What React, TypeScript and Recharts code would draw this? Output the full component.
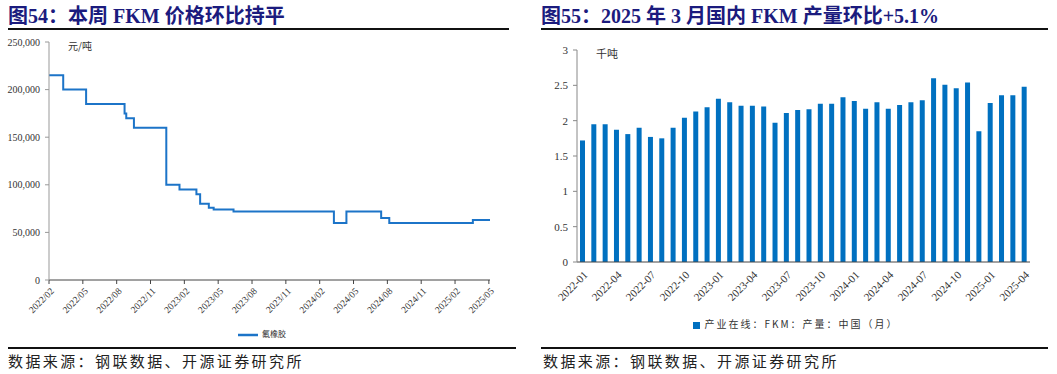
import React from "react";
import {
  Bar,
  BarChart,
  Legend,
  Line,
  LineChart,
  XAxis,
  YAxis,
} from "recharts";

// 图54：FKM 价格（元/吨），x = 自 2022/02 起的月份
const priceMonth = [0, 1.26, 3.29, 6.7, 6.85, 7.53, 10.4, 11.57, 13.07, 13.4, 14.17, 14.6, 16.36, 25.26, 26.37, 29.45, 30.17, 37.58, 39.1];
const priceValue = [215000, 200000, 185000, 175000, 170000, 160000, 100000, 95000, 90000, 80000, 76000, 74000, 72000, 60000, 72000, 65000, 60000, 63000, 63000];
const priceTickLabels = ["2022/02", "2022/05", "2022/08", "2022/11", "2023/02", "2023/05", "2023/08", "2023/11", "2024/02", "2024/05", "2024/08", "2024/11", "2025/02", "2025/05"];
const priceTicks = [0, 3, 6, 9, 12, 15, 18, 21, 24, 27, 30, 33, 36, 39];
const priceYTicks = [0, 50000, 100000, 150000, 200000, 250000];

// 图55：FKM 月产量（千吨）
const months = [
  "2022-01", "2022-02", "2022-03", "2022-04", "2022-05", "2022-06", "2022-07", "2022-08", "2022-09", "2022-10", "2022-11", "2022-12",
  "2023-01", "2023-02", "2023-03", "2023-04", "2023-05", "2023-06", "2023-07", "2023-08", "2023-09", "2023-10", "2023-11", "2023-12",
  "2024-01", "2024-02", "2024-03", "2024-04", "2024-05", "2024-06", "2024-07", "2024-08", "2024-09", "2024-10", "2024-11", "2024-12",
  "2025-01", "2025-02", "2025-03", "2025-04",
];
const output = [
  1.72, 1.95, 1.95, 1.87, 1.81, 1.9, 1.77, 1.75, 1.9, 2.04, 2.13, 2.19,
  2.31, 2.26, 2.21, 2.21, 2.2, 1.97, 2.11, 2.15, 2.16, 2.24, 2.24, 2.33,
  2.28, 2.17, 2.26, 2.17, 2.22, 2.26, 2.29, 2.6, 2.51, 2.46, 2.54, 1.85,
  2.25, 2.36, 2.36, 2.48,
];
const outputYTicks = [0, 0.5, 1, 1.5, 2, 2.5, 3];

const priceData = priceMonth.map((m, i) => ({ m, price: priceValue[i] }));
const outputData = months.map((month, i) => ({ month, value: output[i] }));

const serif = "'Liberation Serif', 'Times New Roman', 'Noto Sans CJK SC', serif";
const cjk = "'Noto Sans CJK SC', 'Liberation Serif', serif";
const titleColor = "#1b1b7e";

function RotatedTick(props: any) {
  const { x, y, payload, formatter, size = 10 } = props;
  const text = formatter ? formatter(payload.value) : payload.value;
  return (
    <g transform={`translate(${x},${y})`}>
      <text
        x={0}
        y={0}
        dy={8}
        textAnchor="end"
        transform="rotate(-45)"
        fontSize={size}
        fontFamily={serif}
        fill="#333"
      >
        {text}
      </text>
    </g>
  );
}

const titleStyle: React.CSSProperties = {
  position: "absolute",
  top: 3,
  fontSize: 20,
  fontWeight: 700,
  color: titleColor,
  fontFamily: serif,
  whiteSpace: "nowrap",
  lineHeight: "26px",
};

const sourceStyle: React.CSSProperties = {
  position: "absolute",
  top: 351,
  fontSize: 15,
  letterSpacing: 2.4,
  color: "#222",
  fontFamily: cjk,
  whiteSpace: "nowrap",
  lineHeight: "20px",
};

export default function App() {
  return (
    <div
      style={{
        position: "absolute",
        left: 0,
        top: 0,
        width: 1057,
        height: 374,
        background: "#fff",
        overflow: "hidden",
      }}
    >
      {/* 左：价格 */}
      <div style={{ ...titleStyle, left: 8 }}>图54：本周 FKM 价格环比持平</div>
      <div style={{ position: "absolute", left: 8, top: 28, width: 501, height: 2, background: "#111" }} />
      <div style={{ position: "absolute", left: 68, top: 38, fontSize: 10, fontFamily: cjk, color: "#333" }}>元/吨</div>

      <div style={{ position: "absolute", left: 0, top: 30 }}>
        <LineChart
          width={520}
          height={318}
          data={priceData}
          margin={{ top: 12, right: 30, left: 0, bottom: 0 }}
        >
          <XAxis
            dataKey="m"
            type="number"
            domain={[0, 39.1]}
            ticks={priceTicks}
            interval={0}
            tick={<RotatedTick size={9.5} formatter={(v: number) => priceTickLabels[priceTicks.indexOf(v)]} />}
            tickSize={4}
            height={40}
            stroke="#444"
          />
          <YAxis
            type="number"
            domain={[0, 250000]}
            ticks={priceYTicks}
            width={49}
            tickSize={4}
            tickMargin={5}
            tickFormatter={(v: number) => v.toLocaleString("en-US")}
            tick={{ fontSize: 10, fontFamily: serif, fill: "#333" }}
            stroke="#999"
          />
          <Legend
            verticalAlign="bottom"
            height={28}
            iconType="plainline"
            iconSize={20}
            wrapperStyle={{ fontSize: 8, fontFamily: cjk, bottom: -5, left: 22 }}
            formatter={(v: string) => <span style={{ color: "#333" }}>{v}</span>}
          />
          <Line
            name="氟橡胶"
            type="stepAfter"
            dataKey="price"
            stroke="#1c74c8"
            strokeWidth={2}
            dot={false}
            isAnimationActive={false}
          />
        </LineChart>
      </div>

      {/* 右：产量 */}
      <div style={{ ...titleStyle, left: 541 }}>图55：2025 年 3 月国内 FKM 产量环比+5.1%</div>
      <div style={{ position: "absolute", left: 541, top: 28, width: 507, height: 2, background: "#111" }} />
      <div style={{ position: "absolute", left: 596, top: 45, fontSize: 11, fontFamily: cjk, color: "#333" }}>千吨</div>

      <div style={{ position: "absolute", left: 530, top: 30 }}>
        <BarChart
          width={527}
          height={318}
          data={outputData}
          margin={{ top: 20, right: 27, left: 0, bottom: 0 }}
        >
          <XAxis
            dataKey="month"
            interval={2}
            tick={<RotatedTick size={11} />}
            tickLine={false}
            height={52}
            stroke="#444"
          />
          <YAxis
            domain={[0, 3]}
            ticks={outputYTicks}
            width={47}
            tickSize={4}
            tickMargin={5}
            tick={{ fontSize: 11, fontFamily: serif, fill: "#333" }}
            stroke="#888"
          />
          <Legend
            verticalAlign="bottom"
            height={34}
            iconType="square"
            iconSize={7}
            wrapperStyle={{ fontSize: 10, fontFamily: cjk, letterSpacing: 2, bottom: -2, left: 21 }}
            formatter={(v: string) => <span style={{ color: "#333" }}>{v}</span>}
          />
          <Bar
            name="产业在线：FKM：产量：中国（月）"
            dataKey="value"
            fill="#0070c0"
            barSize={5}
            isAnimationActive={false}
          />
        </BarChart>
      </div>

      <div style={{ position: "absolute", left: 8, top: 347, width: 508, height: 1.5, background: "#111" }} />
      <div style={{ position: "absolute", left: 541, top: 347, width: 507, height: 1.5, background: "#111" }} />
      <div style={{ ...sourceStyle, left: 8 }}>数据来源：钢联数据、开源证券研究所</div>
      <div style={{ ...sourceStyle, left: 543 }}>数据来源：钢联数据、开源证券研究所</div>
    </div>
  );
}
